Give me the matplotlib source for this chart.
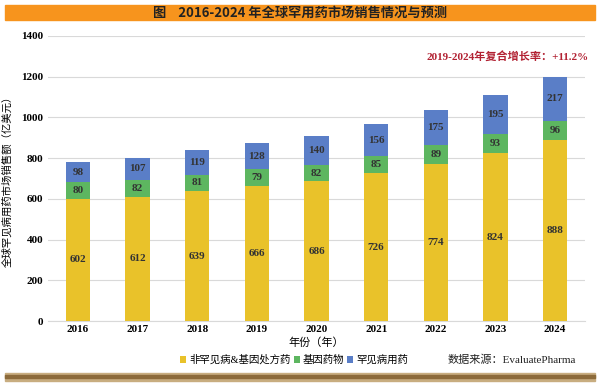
import matplotlib
matplotlib.use("Agg")
from matplotlib import pyplot as plt
import numpy as np

plt.rcParams['font.family'] = ['Liberation Serif', 'Noto Sans CJK SC', 'DejaVu Sans']

years = ["2016", "2017", "2018", "2019", "2020", "2021", "2022", "2023", "2024"]
non_rare = [602, 612, 639, 666, 686, 726, 774, 824, 888]
gene = [80, 82, 81, 79, 82, 85, 89, 93, 96]
rare = [98, 107, 119, 128, 140, 156, 175, 195, 217]
series_names = ["非罕见病&基因处方药", "基因药物", "罕见病用药"]

yellow = "#E9C22A"
green = "#5DB660"
blue = "#5A7EC7"

fig = plt.figure(figsize=(6, 3.87), dpi=100)
ax = fig.add_axes([0.08, 0.17, 0.895, 0.737])

x = np.arange(len(years))
w = 0.41
b1 = ax.bar(x, non_rare, w, color=yellow, label=series_names[0], zorder=3)
b2 = ax.bar(x, gene, w, bottom=non_rare, color=green, label=series_names[1], zorder=3)
bottom3 = np.array(non_rare) + np.array(gene)
b3 = ax.bar(x, rare, w, bottom=bottom3, color=blue, label=series_names[2], zorder=3)

for i in range(len(years)):
    ax.text(x[i], non_rare[i] / 2, str(non_rare[i]), ha='center', va='center', fontsize=8, fontweight='bold', color='#333333', zorder=4)
    ax.text(x[i], non_rare[i] + gene[i] / 2, str(gene[i]), ha='center', va='center', fontsize=8, fontweight='bold', color='#333333', zorder=4)
    ax.text(x[i], bottom3[i] + rare[i] / 2, str(rare[i]), ha='center', va='center', fontsize=8, fontweight='bold', color='#333333', zorder=4)

ax.set_xlim(-0.5, len(years) - 0.5)
ax.set_ylim(0, 1400)
ax.set_yticks(range(0, 1401, 200))
ax.set_xticks(x)
ax.set_xticklabels(years, fontsize=8, fontweight='bold')
ax.tick_params(axis='y', labelsize=8, length=0)
ax.tick_params(axis='x', length=0, pad=3)
for lbl in ax.get_yticklabels():
    lbl.set_fontweight('bold')
ax.yaxis.grid(True, color='#d9d9d9', linewidth=0.8, zorder=0)
for s in ['top', 'right', 'left']:
    ax.spines[s].set_visible(False)
ax.spines['bottom'].set_color('#d9d9d9')

ax.set_xlabel("年份（年）", fontsize=8, labelpad=2)
ax.set_ylabel("全球罕见病用药市场销售额（亿美元）", fontsize=7.5, labelpad=6)

ax.text(7.2, 1300, "2019-2024年复合增长率：+11.2%", color='#B22233', fontsize=8, fontweight='bold', ha='center', va='center')

# title banner
fig.patches.append(plt.Rectangle((0.008, 0.948), 0.984, 0.038, transform=fig.transFigure, color='#F7941D', zorder=0))
fig.text(0.5, 0.967, "图    2016-2024 年全球罕用药市场销售情况与预测", ha='center', va='center', fontsize=9.5,
         family=['Noto Sans CJK SC', 'DejaVu Sans'], fontweight='bold', color='#222222')

leg = fig.legend(handles=[b1, b2, b3], loc='center', bbox_to_anchor=(0.49, 0.07), ncol=3, frameon=False,
                 fontsize=7.5, handlelength=0.6, handleheight=0.6, handletextpad=0.25, columnspacing=0.3)
fig.text(0.96, 0.07, "数据来源：EvaluatePharma", ha='right', va='center', fontsize=8, color='#222222')

# bottom decorative bar
fig.patches.append(plt.Rectangle((0.008, 0.015), 0.984, 0.022, transform=fig.transFigure, color='#C8AD80', zorder=0))
fig.patches.append(plt.Rectangle((0.008, 0.024), 0.984, 0.007, transform=fig.transFigure, color='#8C6A3A', zorder=0))

fig.savefig("out.png", dpi=100)
